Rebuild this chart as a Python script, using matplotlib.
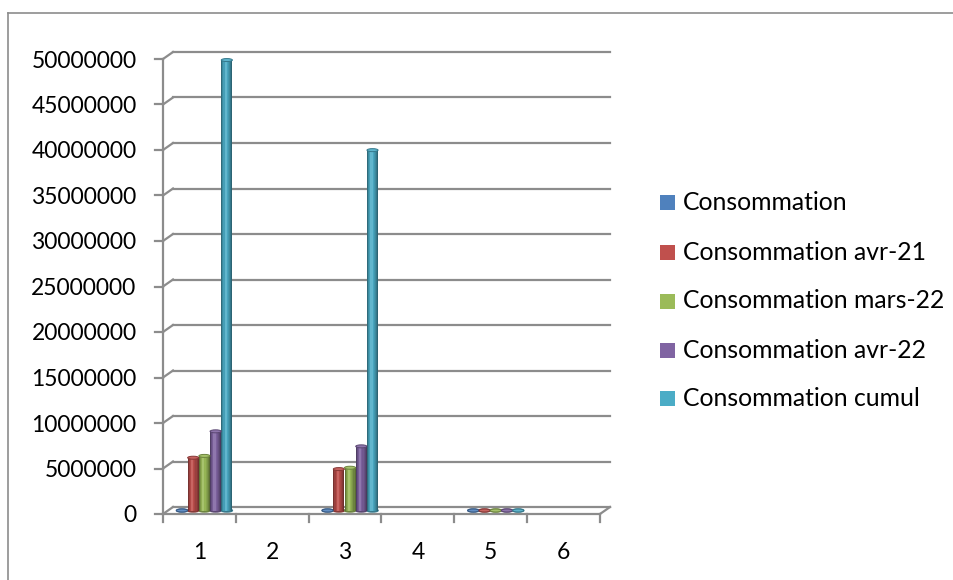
import numpy as np
import matplotlib.pyplot as plt
import matplotlib.colors as mcolors
from matplotlib.patches import Ellipse, Rectangle
from matplotlib.lines import Line2D

plt.rcParams['font.family'] = ['Lato', 'DejaVu Sans']

categories = ['1', '2', '3', '4', '5', '6']
series_names = ['Consommation', 'Consommation avr-21', 'Consommation mars-22',
                'Consommation avr-22', 'Consommation cumul']
nan = np.nan
consommation = [0, nan, 0, nan, 0, nan]
conso_avr21 = [5800000, nan, 4550000, nan, 0, nan]
conso_mars22 = [6000000, nan, 4700000, nan, 0, nan]
conso_avr22 = [8700000, nan, 7050000, nan, 0, nan]
conso_cumul = [49500000, nan, 39600000, nan, 0, nan]
series = [consommation, conso_avr21, conso_mars22, conso_avr22, conso_cumul]
colors = ['#4F81BD', '#C0504D', '#9BBB59', '#8064A2', '#4BACC6']
yticks = np.arange(0, 50000001, 5000000)

W, H = 954, 580
fig = plt.figure(figsize=(W / 100, H / 100), dpi=100)
ax_l, ax_b, ax_w, ax_h = 163, 66, 437, 455
ax = fig.add_axes([ax_l / W, ax_b / H, ax_w / W, ax_h / H])
ax.set_xlim(0, 6)
ax.set_ylim(0, 50000000)
for s in ax.spines.values():
    s.set_visible(False)
ax.patch.set_alpha(0)

# pixel -> data units
px_x = 6 / ax_w
px_y = 50000000 / ax_h
bx, by = 10 * px_x, 7 * px_y   # depth offset of back wall
grid_c = '#8C8C8C'
lw = 1.6

# back wall gridlines + left wall connectors
for v in yticks:
    ax.plot([bx, 6 + bx], [v + by, v + by], color=grid_c, lw=lw, clip_on=False, zorder=1)
    ax.plot([0, bx], [v, v + by], color=grid_c, lw=lw, clip_on=False, zorder=1)
    ax.plot([-8 * px_x, 0], [v, v], color=grid_c, lw=lw, clip_on=False, zorder=1)
# front vertical axis
ax.plot([0, 0], [0, 50000000], color=grid_c, lw=lw, clip_on=False, zorder=1)
# floor
ax.plot([0, 6], [0, 0], color=grid_c, lw=lw, clip_on=False, zorder=1)
ax.plot([6, 6 + bx], [0, by], color=grid_c, lw=lw, clip_on=False, zorder=1)
for k in range(7):
    ax.plot([k, k], [0, -8 * px_y], color=grid_c, lw=lw, clip_on=False, zorder=1)

# cylinders
bw = 0.153
step = 0.154
nstrip = 10
shade = np.array([0.62, 0.8, 0.92, 1.0, 1.0, 0.96, 0.88, 0.8, 0.7, 0.58])
for j, (vals, col) in enumerate(zip(series, colors)):
    base_rgb = np.array(mcolors.to_rgb(col))
    dark = base_rgb * 0.7
    for i, v in enumerate(vals):
        if np.isnan(v):
            continue
        xc = i + 0.5 + (j - 2) * step + bx / 2
        y0 = by / 2
        sw = bw / nstrip
        for k in range(nstrip):
            f = shade[k]
            c = np.clip(base_rgb * f + (0.12 if f == 1.0 else 0) * (1 - base_rgb), 0, 1)
            ax.bar(xc - bw / 2 + (k + 0.5) * sw, v, width=sw * 1.02, bottom=y0,
                   color=c, linewidth=0, zorder=3)
        ax.add_patch(Ellipse((xc, y0), bw, 3 * px_y, color=dark, zorder=2.9, clip_on=False))
        top_c = np.clip(base_rgb + 0.1 * (1 - base_rgb), 0, 1)
        ax.add_patch(Ellipse((xc, y0 + v), bw, 3 * px_y, facecolor=top_c,
                             edgecolor=dark, lw=0.7, zorder=4, clip_on=False))

ax.set_yticks(yticks)
ax.set_yticklabels([str(int(v)) for v in yticks], fontsize=16.5, color='black')
ax.tick_params(axis='y', length=0, pad=19)
ax.set_xticks(np.arange(6) + 0.5)
ax.set_xticklabels(categories, fontsize=16.5)
ax.tick_params(axis='x', length=0, pad=20)

# legend
leg_y = [203, 252, 301, 350, 398]
for name, col, yy in zip(series_names, colors, leg_y):
    fig.patches.append(Rectangle((660 / W, 1 - (yy + 7.5) / H), 15 / W, 15 / H,
                                 transform=fig.transFigure, facecolor=col, edgecolor='none'))
    fig.text(683 / W, 1 - yy / H, name, fontsize=17.8, va='center', ha='left')

# chart border
fig.add_artist(Line2D([8 / W, 8 / W], [0, 1 - 13 / H], color='#8C8C8C', lw=1.2))
fig.add_artist(Line2D([8 / W, 1], [1 - 13 / H, 1 - 13 / H], color='#8C8C8C', lw=1.2))

fig.savefig('out.png', dpi=100)
